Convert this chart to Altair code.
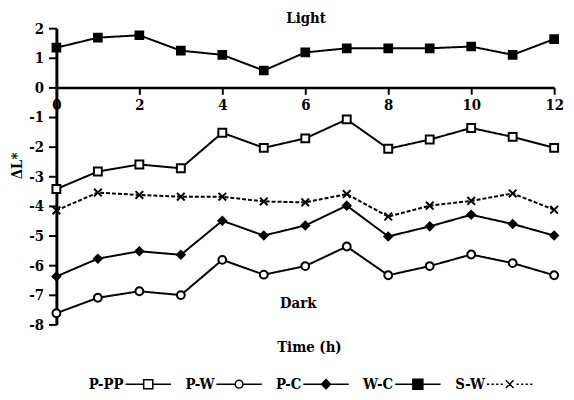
import altair as alt
import pandas as pd

# ---------------- data ----------------
hours = list(range(13))
series_names = ["P-PP", "P-W", "P-C", "W-C", "S-W"]
p_pp = [-3.43, -2.84, -2.60, -2.73, -1.53, -2.04, -1.72, -1.08, -2.07, -1.76, -1.37, -1.67, -2.04]
p_w = [-7.62, -7.10, -6.88, -7.01, -5.82, -6.32, -6.03, -5.37, -6.34, -6.03, -5.64, -5.93, -6.34]
p_c = [-6.38, -5.78, -5.53, -5.65, -4.50, -5.00, -4.66, -3.99, -5.03, -4.69, -4.30, -4.61, -5.00]
w_c = [1.34, 1.68, 1.76, 1.24, 1.10, 0.57, 1.18, 1.32, 1.32, 1.32, 1.38, 1.10, 1.63]
s_w = [-4.15, -3.55, -3.63, -3.69, -3.69, -3.85, -3.88, -3.60, -4.36, -3.99, -3.83, -3.58, -4.13]
x_ticks = [0, 2, 4, 6, 8, 10, 12]
y_ticks = [-8, -7, -6, -5, -4, -3, -2, -1, 0, 1, 2]
notes = ["Light", "Dark", "Time (h)"]
note_hours = [6.02, 5.83, 6.1]
note_values = [2.34, -7.29, -8.75]

values = {"P-PP": p_pp, "P-W": p_w, "P-C": p_c, "W-C": w_c, "S-W": s_w}
df = pd.DataFrame(
    [{"series": s, "hour": h, "value": v} for s in series_names for h, v in zip(hours, values[s])]
)
notes_df = pd.DataFrame({"note": notes, "hour": note_hours, "value": note_values})
legend_df = pd.DataFrame({"legend_series": series_names, "hour": [6] * 5, "value": [0] * 5})

# ---------------- styles ----------------
FONT = "'DejaVu Serif Condensed', 'DejaVu Serif'"
FS_AXIS = 15
FS = 15
shape_range = ["square", "circle", "diamond", "square", "M-1,-1L1,1M-1,1L1,-1"]
fill_range = ["white", "white", "black", "black", "black"]
stroke_range = ["black"] * 5
size_range = [64, 60, 110, 100, 70]
dash_range = [[1, 0], [1, 0], [1, 0], [1, 0], [4, 2]]
width_range = [2, 2, 2, 2, 1.5]
legend_paths = [
    "M-1,0H-0.2M0.2,0H1M-0.2,-0.2H0.2V0.2H-0.2Z",
    "M-1,0H-0.17M0.17,0H1M0.17,0A0.17,0.17,0,1,1,-0.17,0A0.17,0.17,0,1,1,0.17,0Z",
    "M-1,0H-0.2M0.2,0H1M0,-0.2L0.2,0L0,0.2L-0.2,0Z",
    "M-1,0H-0.22M0.22,0H1M-0.22,-0.22H0.22V0.22H-0.22Z",
    "M-1,0H-0.9M-0.8,0H-0.7M-0.6,0H-0.5M-0.4,0H-0.3M0.3,0H0.4M0.5,0H0.6M0.7,0H0.8M0.9,0H1"
    "M-0.17,-0.17L0.17,0.17M-0.17,0.17L0.17,-0.17",
]

x_scale = alt.Scale(domain=[0, 12], nice=False, zero=False)
y_scale = alt.Scale(domain=[-8, 2], nice=False, zero=False)

x_axis = alt.Axis(
    values=x_ticks, title=None, offset=-240, grid=False, labelFlush=False,
    tickSize=7, tickWidth=2, domainWidth=2.5, labelPadding=3, labelOverlap=False,
)
y_axis = alt.Axis(
    values=y_ticks, title="ΔL*", grid=False, tickSize=8, tickWidth=2, domainWidth=3,
    labelPadding=5, titleAngle=270, titleX=-40, titleY=139, labelOverlap=False,
    titleAlign="center", titleBaseline="middle", labelExpr="toString(datum.value)",
)

x_enc = alt.X("hour:Q", scale=x_scale, axis=x_axis)
y_enc = alt.Y("value:Q", scale=y_scale, axis=y_axis)

lines = alt.Chart(df).mark_line(color="black").encode(
    x=x_enc,
    y=y_enc,
    detail="series:N",
    strokeDash=alt.StrokeDash("series:N", scale=alt.Scale(domain=series_names, range=dash_range), legend=None),
    strokeWidth=alt.StrokeWidth("series:N", scale=alt.Scale(domain=series_names, range=width_range), legend=None),
)

points = alt.Chart(df).mark_point(stroke="black", strokeWidth=2, opacity=1).encode(
    x=x_enc,
    y=y_enc,
    shape=alt.Shape("series:N", scale=alt.Scale(domain=series_names, range=shape_range), legend=None),
    fill=alt.Fill("series:N", scale=alt.Scale(domain=series_names, range=fill_range), legend=None),
    size=alt.Size("series:N", scale=alt.Scale(domain=series_names, range=size_range), legend=None),
)

leg = alt.Legend(
    title=None, orient="none", legendX=69, legendY=336, direction="horizontal",
    symbolSize=2116, symbolStrokeWidth=1.5,
    labelAlign="right", labelOffset={"expr": "-49"}, labelFont=FONT, labelFontSize=FS,
    labelFontWeight="bold", labelColor="black", columnPadding=11, padding=0,
)
legend_layer = alt.Chart(legend_df).transform_filter("false").mark_point(
    strokeWidth=1.5, opacity=1, size=2116
).encode(
    x=x_enc,
    y=y_enc,
    shape=alt.Shape("legend_series:N", scale=alt.Scale(domain=series_names, range=legend_paths), legend=leg),
    fill=alt.Fill("legend_series:N", scale=alt.Scale(domain=series_names, range=fill_range), legend=leg),
    stroke=alt.Stroke("legend_series:N", scale=alt.Scale(domain=series_names, range=stroke_range), legend=leg),
)

texts = alt.Chart(notes_df).mark_text(
    font=FONT, fontSize=FS, fontWeight="bold", color="black", align="center", baseline="middle"
).encode(x=x_enc, y=y_enc, text="note:N")

chart = (
    alt.layer(lines, points, legend_layer, texts)
    .resolve_scale(shape="independent", fill="independent", size="independent", stroke="independent")
    .properties(
        width=504, height=300,
        autosize=alt.AutoSizeParams(type="none"),
        padding={"left": 49, "top": 18, "right": 12, "bottom": 66},
    )
    .configure_view(stroke=None)
    .configure_axis(
        labelFont=FONT, labelFontSize=FS_AXIS, labelFontWeight="bold", labelColor="black",
        titleFont=FONT, titleFontSize=FS, titleFontWeight="bold", titleColor="black",
        domainColor="black", tickColor="black",
    )
)

chart.save("out.html", embed_options={"renderer": "svg", "actions": False})
